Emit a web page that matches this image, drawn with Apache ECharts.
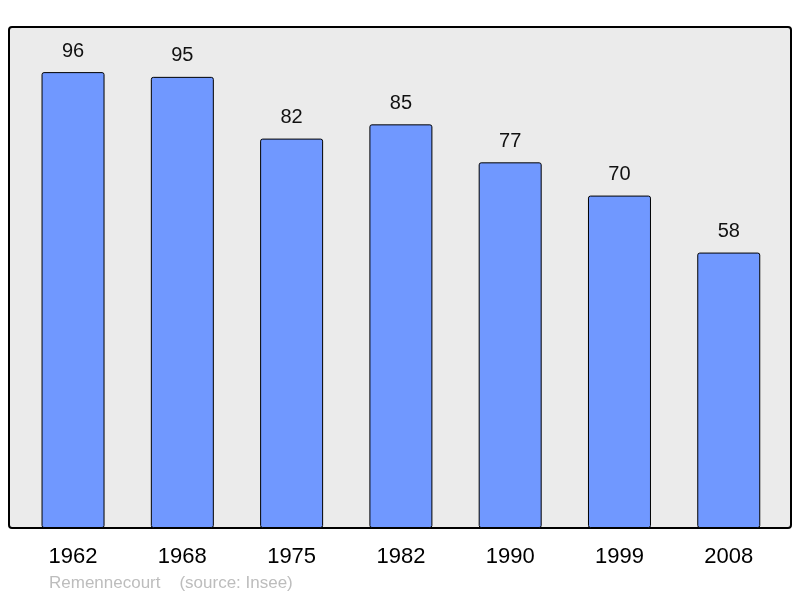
<!DOCTYPE html>
<html><head><meta charset="utf-8">
<script src="https://cdn.jsdelivr.net/npm/echarts@6/dist/echarts.min.js"></script>
<style>html,body{margin:0;padding:0;background:#fff}#c{width:800px;height:598px}</style>
</head><body><div id="c"></div>
<script>
var years = ['1962','1968','1975','1982','1990','1999','2008'];
var population = [96,95,82,85,77,70,58];
var footerText = 'Remennecourt    (source: Insee)';

var chart = echarts.init(document.getElementById('c'), null, {renderer:'canvas'});
chart.setOption({
  animation:false,
  textStyle:{fontFamily:'Liberation Sans, Arial, sans-serif'},
  graphic:[
    {type:'rect', z:-1, shape:{x:9, y:27, width:782, height:501, r:3},
     style:{fill:'#ebebeb', stroke:'#000', lineWidth:2}},
    {type:'text', left:49, top:575, style:{text:footerText, fill:'#bdbdbd', fontSize:17, fontFamily:'Liberation Sans, Arial, sans-serif'}}
  ],
  grid:{left:18.4, width:765, top:27, height:501, containLabel:false},
  xAxis:{type:'category', data:years, axisLine:{show:false}, axisTick:{show:false},
    axisLabel:{fontSize:22, color:'#000', margin:18}},
  yAxis:{type:'value', min:0, max:105.5, show:false, splitLine:{show:false}},
  series:[{type:'bar', data:population, barWidth:63,
    itemStyle:{color:'#7098ff', borderColor:'#000', borderWidth:1, borderRadius:2},
    label:{show:true, position:'top', distance:11, fontSize:20, color:'#111'}}]
});
</script></body></html>
